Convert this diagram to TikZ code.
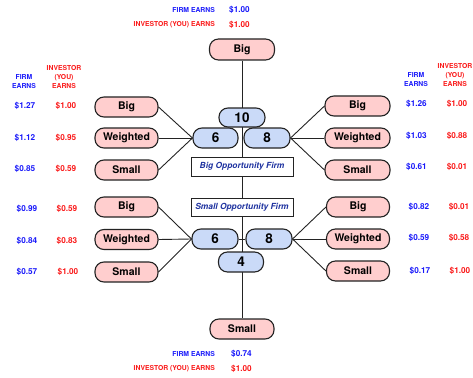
\documentclass[tikz,border=0pt]{standalone}
\usepackage{fontspec}
\setmainfont{TeX Gyre Heros}
\usetikzlibrary{backgrounds}
\definecolor{pinkfill}{RGB}{255,206,206}
\definecolor{bluefill}{RGB}{202,218,248}
\definecolor{txtblue}{RGB}{25,25,250}
\definecolor{txtred}{RGB}{250,25,25}
\definecolor{boxblue}{RGB}{30,50,160}
\definecolor{edge}{RGB}{35,35,35}
\tikzset{
  choice/.style={draw=edge, line width=1.1pt, fill=pinkfill, rounded corners=9pt,
    minimum width=63pt, minimum height=20pt, inner sep=0pt,
    font=\fontsize{10.5}{12}\selectfont\bfseries},
  numbox/.style={draw=edge, line width=1.1pt, fill=bluefill, rounded corners=9pt,
    minimum width=46pt, minimum height=20pt, inner sep=0pt,
    font=\fontsize{13.5}{15}\selectfont\bfseries},
  firmbox/.style={draw=edge, line width=1pt, fill=white,
    minimum width=102pt, minimum height=19pt, inner sep=0pt,
    font=\fontsize{8.4}{10}\selectfont\bfseries\itshape, text=boxblue},
  lbl/.style={font=\fontsize{6.8}{9}\selectfont\bfseries, inner sep=0pt, align=center},
  val/.style={font=\fontsize{8.2}{10}\selectfont\bfseries, inner sep=0pt},
  conn/.style={draw=edge, line width=0.9pt},
}
\begin{document}
\begin{tikzpicture}[x=1pt,y=-1pt]
\useasboundingbox (0,0) rectangle (473,377);
% top
\node[lbl, text=txtblue, anchor=east] (tfl) at (215,10) {FIRM EARNS};
\node[val, text=txtblue, anchor=west] (tfv) at (229,10) {\$1.00};
\node[lbl, text=txtred, anchor=east] (til) at (215,25) {INVESTOR (YOU) EARNS};
\node[val, text=txtred, anchor=west] (tiv) at (229,25) {\$1.00};
\node[choice, minimum width=65pt, minimum height=21pt] (topbig) at (242,49.5) {Big};
% bottom
\node[choice, minimum width=64pt] (botsmall) at (242,329) {Small};
\node[lbl, text=txtblue, anchor=east] (bfl) at (215,354) {FIRM EARNS};
\node[val, text=txtblue, anchor=west] (bfv) at (231,354) {\$0.74};
\node[lbl, text=txtred, anchor=east] (bil) at (215,369) {INVESTOR (YOU) EARNS};
\node[val, text=txtred, anchor=west] (biv) at (231,369) {\$1.00};
% headers
\node[lbl, text=txtblue] (lhf) at (24,81.5) {FIRM\\EARNS};
\node[lbl, text=txtred] (lhi) at (64,77) {INVESTOR\\(YOU)\\EARNS};
\node[lbl, text=txtblue] (rhf) at (416,79.5) {FIRM\\EARNS};
\node[lbl, text=txtred] (rhi) at (455,75) {INVESTOR\\(YOU)\\EARNS};
% center
\node[numbox, minimum height=19pt] (n10) at (242,117.5) {10};
\node[numbox, minimum width=45pt] (u6) at (215.5,138) {6};
\node[numbox] (u8) at (267,138) {8};
\node[firmbox] (bigfirm) at (242,166.5) {Big Opportunity Firm};
\node[firmbox, minimum height=18pt] (smallfirm) at (242,207.5) {Small Opportunity Firm};
\node[numbox] (l6) at (215,239) {6};
\node[numbox] (l8) at (269,239) {8};
\node[numbox, minimum width=45pt] (n4) at (241,262) {4};
% left upper
\node[choice] (lub) at (126.5,107) {Big};
\node[choice] (luw) at (126.5,138) {Weighted};
\node[choice] (lus) at (126.5,170) {Small};
% right upper
\node[choice, minimum width=65pt] (rub) at (357.5,106) {Big};
\node[choice, minimum width=65pt] (ruw) at (357.5,138) {Weighted};
\node[choice, minimum width=65pt] (rus) at (357.5,170) {Small};
% left lower
\node[choice] (llb) at (126.5,207) {Big};
\node[choice] (llw) at (126.5,239.5) {Weighted};
\node[choice] (lls) at (126.5,272) {Small};
% right lower
\node[choice] (rlb) at (358,207) {Big};
\node[choice] (rlw) at (358,239) {Weighted};
\node[choice] (rls) at (358,271) {Small};
% left values
\node[val, text=txtblue] (v1) at (25,106) {\$1.27};
\node[val, text=txtred] (v2) at (66,106) {\$1.00};
\node[val, text=txtblue] (v3) at (25,138) {\$1.12};
\node[val, text=txtred] (v4) at (66,138) {\$0.95};
\node[val, text=txtblue] (v5) at (25,169) {\$0.85};
\node[val, text=txtred] (v6) at (66,169) {\$0.59};
\node[val, text=txtblue] (v7) at (27,209) {\$0.99};
\node[val, text=txtred] (v8) at (67,209) {\$0.59};
\node[val, text=txtblue] (v9) at (27,241) {\$0.84};
\node[val, text=txtred] (v10) at (67,241) {\$0.83};
\node[val, text=txtblue] (v11) at (27,272) {\$0.57};
\node[val, text=txtred] (v12) at (68,272) {\$1.00};
% right values
\node[val, text=txtblue] (w1) at (416.5,104) {\$1.26};
\node[val, text=txtred] (w2) at (457,104) {\$1.00};
\node[val, text=txtblue] (w3) at (416.5,136) {\$1.03};
\node[val, text=txtred] (w4) at (457,136) {\$0.88};
\node[val, text=txtblue] (w5) at (416.5,167) {\$0.61};
\node[val, text=txtred] (w6) at (457,167) {\$0.01};
\node[val, text=txtblue] (w7) at (419,207) {\$0.82};
\node[val, text=txtred] (w8) at (459,207) {\$0.01};
\node[val, text=txtblue] (w9) at (419,238) {\$0.59};
\node[val, text=txtred] (w10) at (459,238) {\$0.58};
\node[val, text=txtblue] (w11) at (420,271) {\$0.17};
\node[val, text=txtred] (w12) at (460,271) {\$1.00};
% connectors
\begin{scope}[on background layer]
\draw[conn] (topbig.south) -- (botsmall.north);
\draw[conn] (l6.east) -- (l8.west);
\end{scope}
\foreach \a in {lub,luw,lus} \draw[conn] (\a.east) -- (u6.west);
\foreach \a in {rub,ruw,rus} \draw[conn] (\a.west) -- (u8.east);
\foreach \a in {llb,llw,lls} \draw[conn] (\a.east) -- (l6.west);
\foreach \a in {rlb,rlw,rls} \draw[conn] (\a.west) -- (l8.east);
\end{tikzpicture}
\end{document}
